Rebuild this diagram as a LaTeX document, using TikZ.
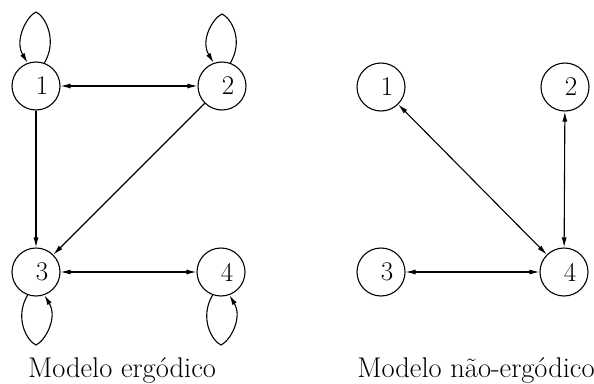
\documentclass[tikz,border=0pt]{standalone}
\usetikzlibrary{arrows.meta}
\begin{document}
\begin{tikzpicture}[x=1pt,y=-1pt,
  st/.style={circle,draw,line width=1.1pt,minimum size=48pt,inner sep=0pt,font=\fontsize{27}{30}\selectfont,execute at begin node={\hspace*{12pt}}},
  arr/.style={line width=1.1pt,-{Latex[length=10pt,width=5pt]}},
  barr/.style={line width=1.1pt,{Latex[length=10pt,width=5pt]}-{Latex[length=10pt,width=5pt]}},
  lbl/.style={font=\fontsize{28.5}{32}\selectfont,anchor=base}]
\useasboundingbox (0,0) rectangle (594,383);
% left
\node[st] (a1) at (36,86) {1};
\node[st] (a2) at (222,86) {2};
\node[st] (a3) at (36,272) {3};
\node[st] (a4) at (221,272) {4};
\draw[barr] (a1) -- (a2);
\draw[arr] (a1) -- (a3);
\draw[arr] (a2) -- (a3);
\draw[barr] (a3) -- (a4);
\begin{scope}[shift={(a1.center)}]
\draw[arr] (a1.70) .. controls (22,-46) and (9,-70) .. (0,-74) .. controls (-9,-70) and (-22,-46) .. (a1.110);
\end{scope}
\begin{scope}[shift={(a2.center)}]
\draw[arr] (a2.70) .. controls (22,-46) and (9,-68) .. (0,-72) .. controls (-9,-68) and (-22,-46) .. (a2.110);
\end{scope}
\begin{scope}[shift={(a3.center)}]
\draw[arr] (a3.250) .. controls (-22,46) and (-9,69) .. (0,73) .. controls (9,69) and (22,46) .. (a3.290);
\end{scope}
\begin{scope}[shift={(a4.center)}]
\draw[arr] (a4.250) .. controls (-22,46) and (-9,69) .. (0,73) .. controls (9,69) and (22,46) .. (a4.290);
\end{scope}
% right
\node[st] (b1) at (381,87) {1};
\node[st] (b2) at (565,87) {2};
\node[st] (b3) at (381,272) {3};
\node[st] (b4) at (564,272) {4};
\draw[barr] (b1) -- (b4);
\draw[barr] (b2) -- (b4);
\draw[barr] (b3) -- (b4);
\node[lbl] (l1) at (122,377) {Modelo ergódico};
\node[lbl] (l2) at (476,377) {Modelo não-ergódico};
\end{tikzpicture}
\end{document}
